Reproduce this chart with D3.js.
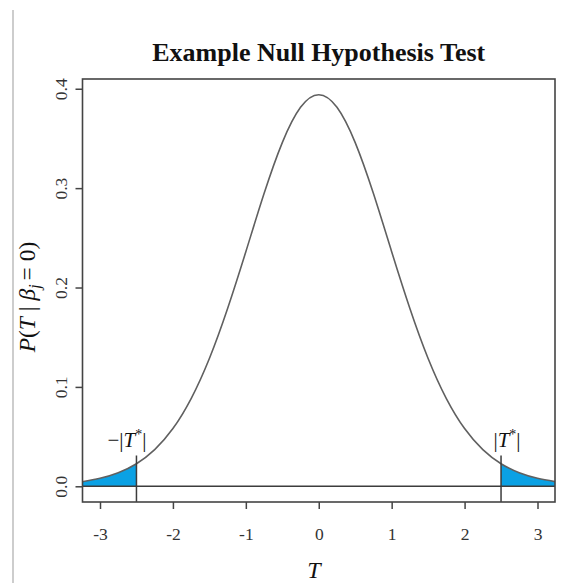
<!DOCTYPE html>
<html>
<head>
<meta charset="utf-8">
<script src="https://cdn.jsdelivr.net/npm/d3@7"></script>
<style>
  html, body { margin: 0; padding: 0; background: #fff; }
  svg { display: block; }
</style>
</head>
<body>
<svg id="chart" width="578" height="583"></svg>
<script>
// Null distribution of the test statistic T, read at steps of 0.25
const tValues = [-3.25, -3.0, -2.75, -2.5, -2.25, -2.0, -1.75, -1.5, -1.25, -1.0, -0.75, -0.5, -0.25,
                 0, 0.25, 0.5, 0.75, 1.0, 1.25, 1.5, 1.75, 2.0, 2.25, 2.5, 2.75, 3.0, 3.25];
const density = [0.0046, 0.0080, 0.0136, 0.0227, 0.0369, 0.0581, 0.0883, 0.1286, 0.1789, 0.2360, 0.2945, 0.3458, 0.3813,
                 0.3940, 0.3813, 0.3458, 0.2945, 0.2360, 0.1789, 0.1286, 0.0883, 0.0581, 0.0369, 0.0227, 0.0136, 0.0080, 0.0046];
const tStar = 2.5;
const xTicks = [-3, -2, -1, 0, 1, 2, 3];
const yTicks = [0.0, 0.1, 0.2, 0.3, 0.4];
const xDomain = [-3.24, 3.24];
const yDomain = [-0.0158, 0.4098];

const svg = d3.select("#chart");
const plot = { left: 82.5, right: 555, top: 79, bottom: 502 };

const x = d3.scaleLinear().domain(xDomain).range([plot.left, plot.right]);
const y = d3.scaleLinear().domain(yDomain).range([plot.bottom, plot.top]);

const pts = tValues.map((t, i) => ({ t, p: density[i] }));

const serif = "'Liberation Serif', 'Times New Roman', serif";

// thin frame line on the left edge of the figure
svg.append("line")
  .attr("x1", 13).attr("x2", 13).attr("y1", 10).attr("y2", 583)
  .attr("stroke", "#bdbdbd").attr("stroke-width", 1.5);

svg.append("clipPath").attr("id", "clip")
  .append("rect")
  .attr("x", plot.left).attr("y", plot.top)
  .attr("width", plot.right - plot.left).attr("height", plot.bottom - plot.top);

const g = svg.append("g").attr("clip-path", "url(#clip)");

// shaded rejection regions in both tails
const area = d3.area()
  .x(d => x(d.t)).y0(y(0)).y1(d => y(d.p))
  .curve(d3.curveNatural);
const leftTail = pts.filter(d => d.t <= -tStar);
const rightTail = pts.filter(d => d.t >= tStar);
[leftTail, rightTail].forEach(tail => {
  g.append("path").datum(tail)
    .attr("d", area)
    .attr("fill", "#0ba1e4")
    .attr("stroke", "none");
});

// density curve
const line = d3.line().x(d => x(d.t)).y(d => y(d.p)).curve(d3.curveNatural);
g.append("path").datum(pts)
  .attr("d", line)
  .attr("fill", "none")
  .attr("stroke", "#606060")
  .attr("stroke-width", 1.6);

// baseline at zero
g.append("line")
  .attr("x1", plot.left).attr("x2", plot.right)
  .attr("y1", y(0)).attr("y2", y(0))
  .attr("stroke", "#3c3c3c").attr("stroke-width", 1.5);

// critical value markers
[-tStar, tStar].forEach(v => {
  g.append("line")
    .attr("x1", x(v)).attr("x2", x(v))
    .attr("y1", plot.bottom).attr("y2", y(0.031))
    .attr("stroke", "#3c3c3c").attr("stroke-width", 1.5);
});

// plot frame
svg.append("rect")
  .attr("x", plot.left).attr("y", plot.top)
  .attr("width", plot.right - plot.left).attr("height", plot.bottom - plot.top)
  .attr("fill", "none").attr("stroke", "#444").attr("stroke-width", 1.6);

// x axis
const xAxis = svg.append("g")
  .attr("transform", `translate(0,${plot.bottom})`)
  .call(d3.axisBottom(x).tickValues(xTicks).tickSize(7).tickPadding(19).tickFormat(d3.format("d")));
xAxis.select(".domain").remove();
xAxis.selectAll(".tick line").attr("stroke", "#444").attr("stroke-width", 1.5);
xAxis.selectAll(".tick text")
  .text(d => d < 0 ? "-" + Math.abs(d) : String(d))
  .attr("fill", "#333")
  .style("font-family", serif)
  .style("font-size", "17.5px");

// y axis, labels rotated
const yAxis = svg.append("g")
  .attr("transform", `translate(${plot.left},0)`)
  .call(d3.axisLeft(y).tickValues(yTicks).tickSize(7).tickFormat(d3.format(".1f")));
yAxis.select(".domain").remove();
yAxis.selectAll(".tick line").attr("stroke", "#444").attr("stroke-width", 1.5);
yAxis.selectAll(".tick text")
  .attr("fill", "#333")
  .attr("x", null).attr("dy", null)
  .attr("transform", "translate(-16,0) rotate(-90)")
  .attr("text-anchor", "middle")
  .style("font-family", serif)
  .style("font-size", "17.5px");

// title
svg.append("text")
  .attr("x", (plot.left + plot.right) / 2).attr("y", 61)
  .attr("text-anchor", "middle")
  .style("font-family", serif)
  .style("font-weight", "bold")
  .style("font-size", "26px")
  .attr("fill", "#111")
  .text("Example Null Hypothesis Test");

// x label
svg.append("text")
  .attr("x", 314).attr("y", 578)
  .attr("text-anchor", "middle")
  .style("font-family", serif)
  .style("font-style", "italic")
  .style("font-size", "24px")
  .attr("fill", "#111")
  .text("T");

// y label: P(T | β_j = 0)
const nb = "\u00A0";
const yl = svg.append("text")
  .attr("transform", "translate(35,297) rotate(-90)")
  .attr("text-anchor", "middle")
  .style("font-family", serif)
  .style("font-size", "23.5px")
  .style("white-space", "pre")
  .attr("fill", "#111");
yl.append("tspan").style("font-style", "italic").text("P");
yl.append("tspan").text("(");
yl.append("tspan").style("font-style", "italic").text("T" + nb);
yl.append("tspan").text("|" + nb);
yl.append("tspan").style("font-style", "italic").text("β");
yl.append("tspan").style("font-style", "italic").style("font-size", "16px").attr("dy", 5).text("j" + nb);
yl.append("tspan").attr("dy", -5).text("=" + nb + "0)");

// critical value labels
function critLabel(cx, negative) {
  const t = svg.append("text")
    .attr("x", cx).attr("y", 447)
    .attr("text-anchor", "middle")
    .style("font-family", serif)
    .style("font-size", "21px")
    .attr("fill", "#111");
  t.append("tspan").text((negative ? "\u2212" : "") + "|");
  t.append("tspan").style("font-style", "italic").text("T");
  t.append("tspan").style("font-size", "14px").attr("dy", -8).text("*");
  t.append("tspan").attr("dy", 8).text("|");
}
critLabel(127, true);
critLabel(507, false);
</script>
</body>
</html>
